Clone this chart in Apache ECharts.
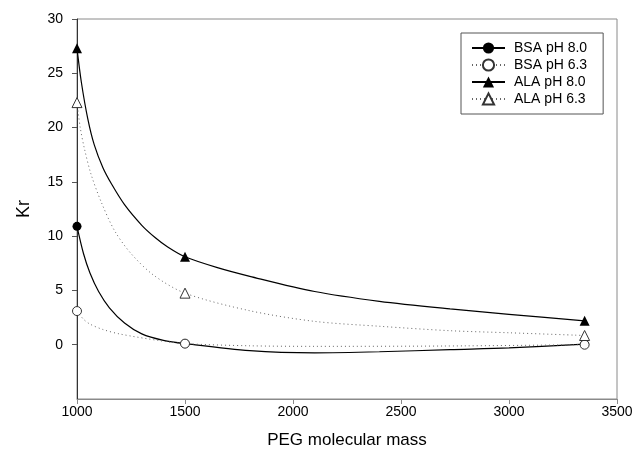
<!DOCTYPE html>
<html>
<head>
<meta charset="utf-8">
<script src="https://cdn.jsdelivr.net/npm/echarts@6/dist/echarts.min.js"></script>
<style>
  html, body { margin: 0; padding: 0; background: #fff; }
  #chart { width: 639px; height: 457px; }
</style>
</head>
<body>
<div id="chart"></div>
<script>
const chart = echarts.init(document.getElementById('chart'))

// measured points
const pegMass = [1000, 1500, 3350]
const bsa80 = [10.9, 0.1, 0.05]
const bsa63 = [3.1, 0.1, 0.0]
const ala80 = [27.3, 8.1, 2.2]
const ala63 = [22.3, 4.75, 0.85]

// fitted curves
const bsa80CurveX = [1000, 1030, 1060, 1100, 1150, 1220, 1300, 1400, 1500, 1800, 2100, 2400, 2727, 3000, 3350]
const bsa80CurveY = [10.9, 8.4, 6.6, 4.9, 3.4, 2.0, 1.0, 0.4, 0.1, -0.55, -0.75, -0.65, -0.45, -0.3, 0.05]
const bsa63CurveX = [1000, 1030, 1060, 1120, 1200, 1384, 1500, 1800, 2100, 2700, 3350]
const bsa63CurveY = [3.1, 2.35, 1.9, 1.4, 0.98, 0.37, 0.1, -0.1, -0.15, -0.12, 0.0]
const ala80CurveX = [1000, 1020, 1050, 1080, 1120, 1160, 1220, 1300, 1360, 1420, 1500, 1650, 1800, 2100, 2400, 2727, 3000, 3350]
const ala80CurveY = [27.3, 24.2, 20.8, 18.4, 16.3, 14.8, 12.9, 11.0, 9.9, 9.0, 8.1, 7.1, 6.3, 4.9, 4.0, 3.3, 2.8, 2.2]
const ala63CurveX = [1000, 1015, 1035, 1065, 1113, 1174, 1250, 1355, 1500, 1800, 2100, 2400, 2727, 3000, 3350]
const ala63CurveY = [22.3, 20.0, 18.0, 15.7, 13.1, 10.5, 8.4, 6.4, 4.75, 3.13, 2.15, 1.7, 1.29, 1.1, 0.85]

const xTicks = [1000, 1500, 2000, 2500, 3000, 3500]
const yTicks = [0, 5, 10, 15, 20, 25, 30]

// curve points plus markers at the measured masses
function buildData(cx, cy, my) {
  let pts = []
  cx.forEach((x, i) => {
    if (pegMass.indexOf(x) < 0) pts.push({ value: [x, cy[i]], symbol: 'none' })
  })
  pegMass.forEach((x, i) => pts.push({ value: [x, my[i]] }))
  pts.sort((a, b) => a.value[0] - b.value[0])
  return pts
}

const solid = { color: '#000', width: 1.2, type: 'solid' }
const dotted = { color: '#666', width: 1, type: [1, 3] }

function makeSeries(name, data, symbol, filled, line, size) {
  return {
    name: name,
    type: 'line',
    data: data,
    smooth: 0.3,
    symbol: symbol,
    symbolSize: size,
    showAllSymbol: true,
    lineStyle: line,
    itemStyle: {
      color: filled ? '#000' : '#fff',
      borderColor: filled ? '#000' : '#333',
      borderWidth: filled ? 0 : 1
    },
    emphasis: { disabled: true },
    z: 3
  }
}

const labelFont = { fontFamily: 'Liberation Sans, Arial', fontSize: 14, color: '#000' }

let option = {
  animation: false,
  backgroundColor: '#fff',
  grid: {
    left: 77, right: 22, top: 19, bottom: 58,
    show: true, borderColor: '#8a8a8a', borderWidth: 1
  },
  legend: {
    orient: 'vertical',
    left: 461, top: 33,
    width: 141,
    padding: [8, 16, 8, 10],
    itemGap: 3,
    itemWidth: 33,
    itemHeight: 14,
    borderColor: '#555',
    borderWidth: 1,
    borderRadius: 0,
    backgroundColor: '#fff',
    textStyle: { fontFamily: 'Liberation Sans, Arial', fontSize: 14, color: '#000', padding: [0, 0, 0, 4] },
    data: ['BSA pH 8.0', 'BSA pH 6.3', 'ALA pH 8.0', 'ALA pH 6.3']
  },
  xAxis: {
    type: 'value',
    min: 1000, max: 3500, interval: 500,
    name: 'PEG molecular mass',
    nameLocation: 'middle',
    nameGap: 33,
    nameTextStyle: { fontFamily: 'Liberation Sans, Arial', fontSize: 17, color: '#000' },
    axisLine: { show: true, onZero: false, lineStyle: { color: '#8a8a8a', width: 1 } },
    axisTick: { show: true, inside: false, length: 5, lineStyle: { color: '#8a8a8a' }, customValues: xTicks },
    axisLabel: Object.assign({ margin: 6, customValues: xTicks, formatter: v => String(v) }, labelFont),
    splitLine: { show: false }
  },
  yAxis: {
    type: 'value',
    min: -5, max: 30, interval: 5,
    name: 'Kr',
    nameLocation: 'middle',
    nameGap: 44,
    nameRotate: 90,
    nameTextStyle: { fontFamily: 'Liberation Sans, Arial', fontSize: 18, color: '#000' },
    axisLine: { show: true, onZero: false, lineStyle: { color: '#333', width: 1 } },
    axisTick: { show: true, inside: false, length: 5, lineStyle: { color: '#555' }, customValues: yTicks },
    axisLabel: Object.assign({ margin: 14, customValues: yTicks, formatter: v => String(v) }, labelFont),
    splitLine: { show: false }
  },
  series: [
    makeSeries('BSA pH 8.0', buildData(bsa80CurveX, bsa80CurveY, bsa80), 'circle', true, solid, 9),
    makeSeries('BSA pH 6.3', buildData(bsa63CurveX, bsa63CurveY, bsa63), 'circle', false, dotted, 9),
    makeSeries('ALA pH 8.0', buildData(ala80CurveX, ala80CurveY, ala80), 'triangle', true, solid, 10),
    makeSeries('ALA pH 6.3', buildData(ala63CurveX, ala63CurveY, ala63), 'triangle', false, dotted, 10)
  ]
}
chart.setOption(option)
</script>
</body>
</html>
